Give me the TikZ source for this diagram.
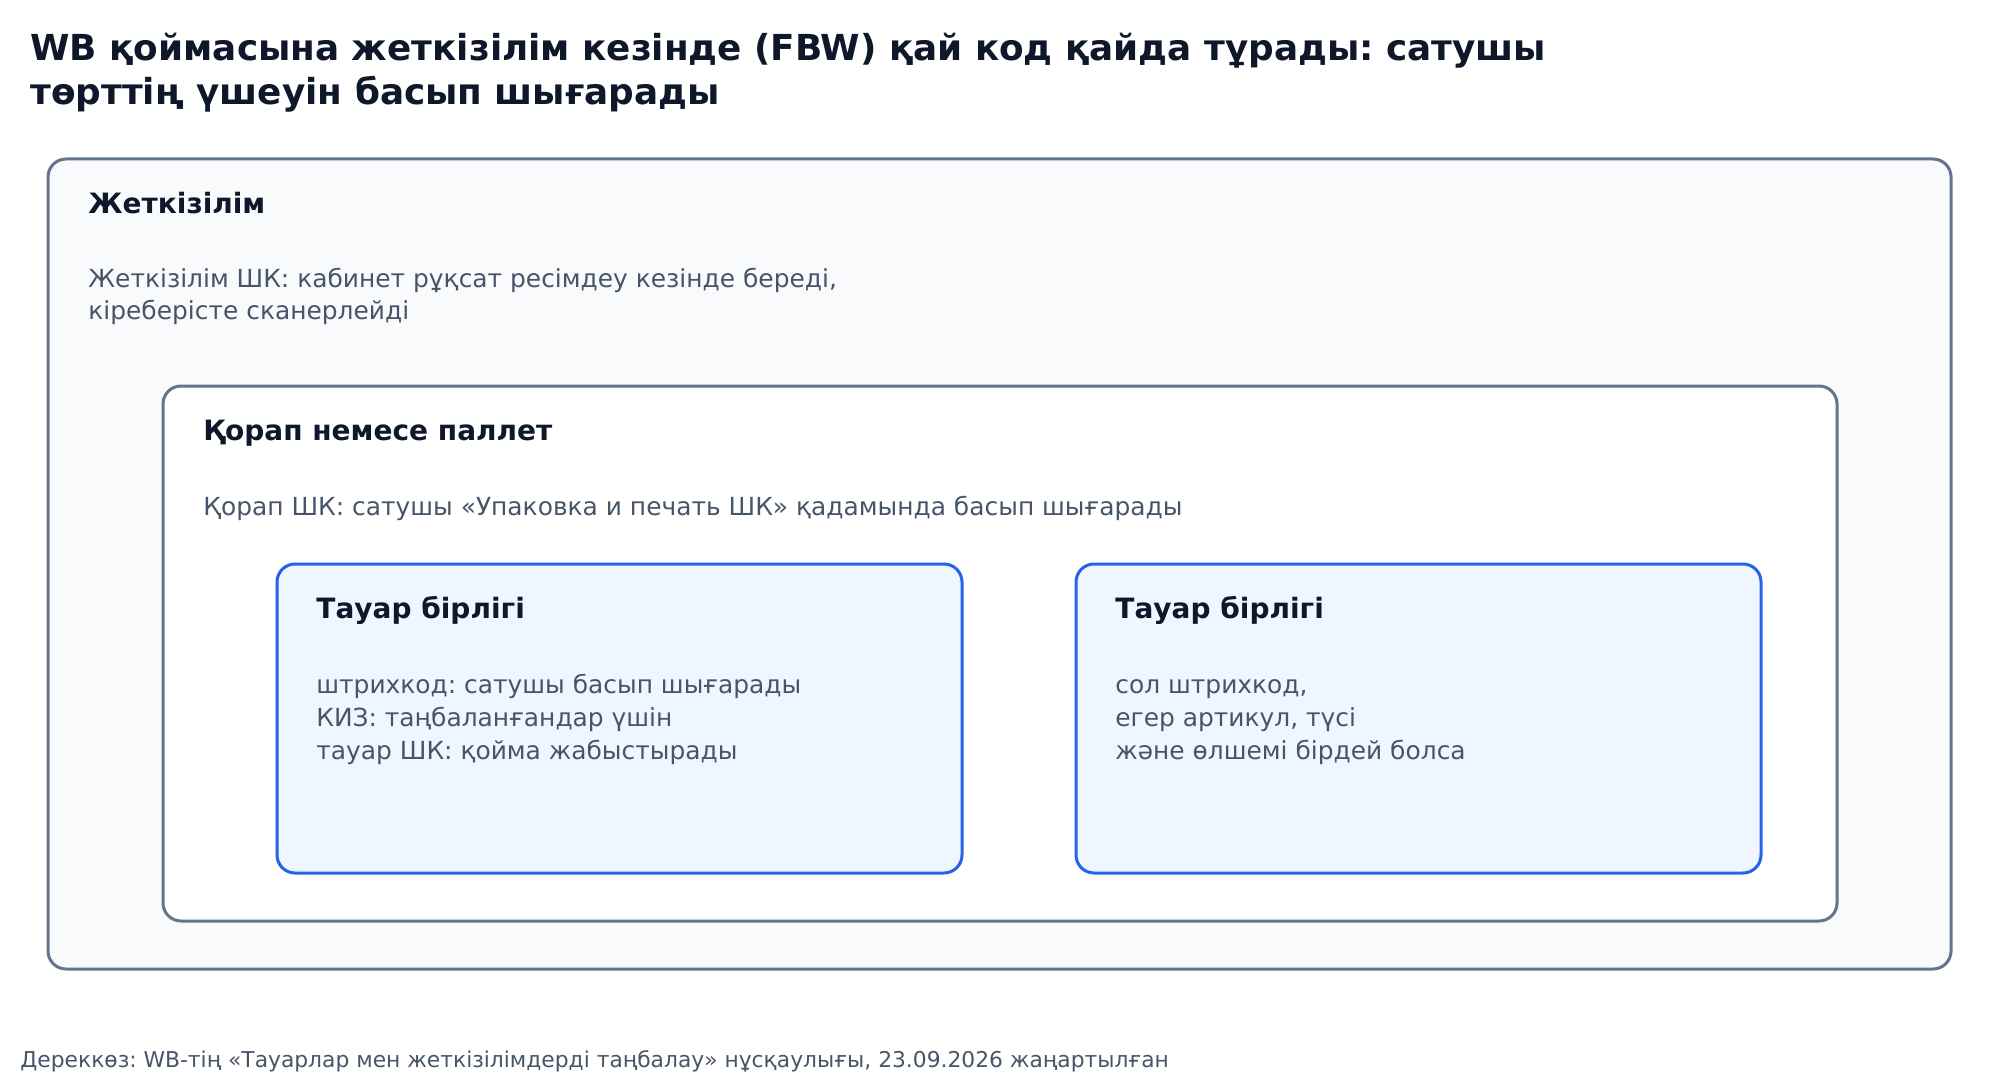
\documentclass[tikz,border=0pt]{standalone}
\usepackage{fontspec}
\setmainfont{DejaVu Sans}
\frenchspacing
\definecolor{ink}{HTML}{0F172A}
\definecolor{slate}{HTML}{475569}
\definecolor{edge}{HTML}{64748B}
\definecolor{paper}{HTML}{F8FAFC}
\definecolor{unitfill}{HTML}{EFF6FF}
\definecolor{unitedge}{HTML}{2563EB}
\tikzset{
  frame/.style={draw=edge, line width=1.5pt, rounded corners=9pt},
  unit/.style={draw=unitedge, fill=unitfill, line width=1.5pt, rounded corners=9pt},
  title/.style={anchor=base west, inner sep=0pt, text=ink, font=\fontsize{17.9}{21}\selectfont\bfseries},
  head/.style={anchor=base west, inner sep=0pt, text=ink, font=\fontsize{14}{17}\selectfont\bfseries},
  body/.style={anchor=base west, inner sep=0pt, text=slate, font=\fontsize{12.45}{15}\selectfont},
  note/.style={anchor=base west, inner sep=0pt, text=slate, font=\fontsize{10.9}{13}\selectfont}
}
\begin{document}
\begin{tikzpicture}[x=0.5pt,y=-0.5pt]
  \useasboundingbox (0,0) rectangle (2000,1080);
  \draw
    (30,61) node[title] (t1){WB қоймасына жеткізілім кезінде (FBW) қай код қайда тұрады: сатушы}
    (30,105) node[title] (t2){төрттің үшеуін басып шығарады};
  % nested boxes
  \draw[frame, fill=paper] (48,159) rectangle (1951,969);
  \draw[frame, fill=white] (163,386) rectangle (1837,921);
  \draw[unit] (277,564) rectangle (962,873);
  \draw[unit] (1076,564) rectangle (1761,873);
  \draw
    (88,214) node[head] (delivery){Жеткізілім}
    (88,288) node[body] (delivery1){Жеткізілім ШК: кабинет рұқсат ресімдеу кезінде береді,}
    (88,320) node[body] (delivery2){кіреберісте сканерлейді}
    (203,440) node[head] (box){Қорап немесе паллет}
    (203,515) node[body] (box1){Қорап ШК: сатушы «Упаковка и печать ШК» қадамында басып шығарады}
    (316,618) node[head] (unitA){Тауар бірлігі}
    (316,693) node[body] (unitA1){штрихкод: сатушы басып шығарады}
    (316,726) node[body] (unitA2){КИЗ: таңбаланғандар үшін}
    (316,759) node[body] (unitA3){тауар ШК: қойма жабыстырады}
    (1115,618) node[head] (unitB){Тауар бірлігі}
    (1115,693) node[body] (unitB1){сол штрихкод,}
    (1115,726) node[body] (unitB2){егер артикул, түсі}
    (1115,759) node[body] (unitB3){және өлшемі бірдей болса}
    (20,1067) node[note] (source){Дереккөз: WB-тің «Тауарлар мен жеткізілімдерді таңбалау» нұсқаулығы, 23.09.2026 жаңартылған};
\end{tikzpicture}
\end{document}
